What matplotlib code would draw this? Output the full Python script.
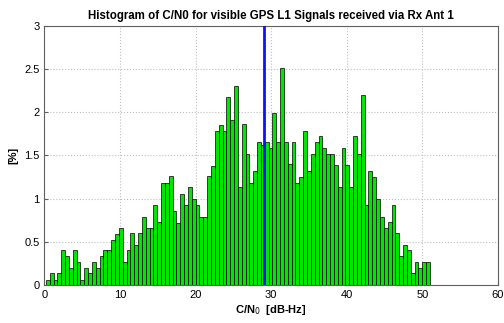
import numpy as np
import matplotlib.pyplot as plt

plt.rcParams['font.family'] = ['Liberation Sans', 'DejaVu Sans']

# bin edges of the C/N0 histogram [dB-Hz]
bin_lo = 0.2
bin_hi = 51.0
# percentage per bin
pct = [0.06, 0.135, 0.06, 0.135, 0.40, 0.33, 0.20, 0.40, 0.26, 0.06,
       0.20, 0.135, 0.26, 0.20, 0.33, 0.40, 0.40, 0.52, 0.59, 0.66,
       0.26, 0.40, 0.60, 0.46, 0.60, 0.79, 0.66, 0.66, 0.92, 0.73,
       1.18, 1.18, 1.26, 0.86, 0.72, 1.05, 0.93, 1.13, 0.99, 0.93,
       0.79, 0.79, 1.26, 1.38, 1.78, 1.85, 1.78, 2.18, 1.91, 2.30,
       1.13, 1.86, 1.52, 1.18, 1.32, 1.65, 1.62, 1.65, 1.59, 1.99,
       1.65, 2.51, 1.65, 1.40, 1.65, 1.18, 1.25, 1.78, 1.32, 1.52,
       1.65, 1.72, 1.59, 1.52, 1.52, 1.39, 1.13, 1.59, 1.39, 1.13,
       1.72, 1.52, 2.20, 0.92, 1.32, 1.25, 1.00, 0.79, 0.66, 0.73,
       0.92, 0.60, 0.33, 0.46, 0.40, 0.135, 0.26, 0.20, 0.26, 0.26]
mean_cn0 = 29.1  # blue line

edges = np.linspace(bin_lo, bin_hi, len(pct) + 1)

fig = plt.figure(figsize=(5.04, 3.23), dpi=100)
ax = fig.add_axes([0.088, 0.118, 0.9, 0.802])

ax.bar(edges[:-1], pct, width=np.diff(edges), align="edge",
       color="#00e600", edgecolor="black", linewidth=0.5, zorder=2)
ax.axvline(mean_cn0, color="#1010ff", linewidth=2, zorder=3)

ax.set_xlim(0, 60)
ax.set_ylim(0, 3)
ax.set_xticks(np.arange(0, 61, 10))
ax.set_yticks(np.arange(0, 3.01, 0.5))
ax.set_yticklabels(["0", "0.5", "1", "1.5", "2", "2.5", "3"])
ax.grid(True, linestyle=":", color="#c0c0c0", linewidth=0.8, zorder=0)
ax.tick_params(direction="in", labelsize=8, length=3, color="#606060")
for s in ax.spines.values():
    s.set_color("#606060")
    s.set_linewidth(0.8)

ax.set_title("Histogram of C/N0 for visible GPS L1 Signals received via Rx Ant 1",
             fontsize=8.3, fontweight="bold", pad=5)
ax.set_xlabel("C/N$_0$  [dB-Hz]", fontsize=8, fontweight="bold", labelpad=2)
ax.set_ylabel("[%]", fontsize=8, fontweight="bold", labelpad=4)

fig.savefig("out.png", dpi=100)
